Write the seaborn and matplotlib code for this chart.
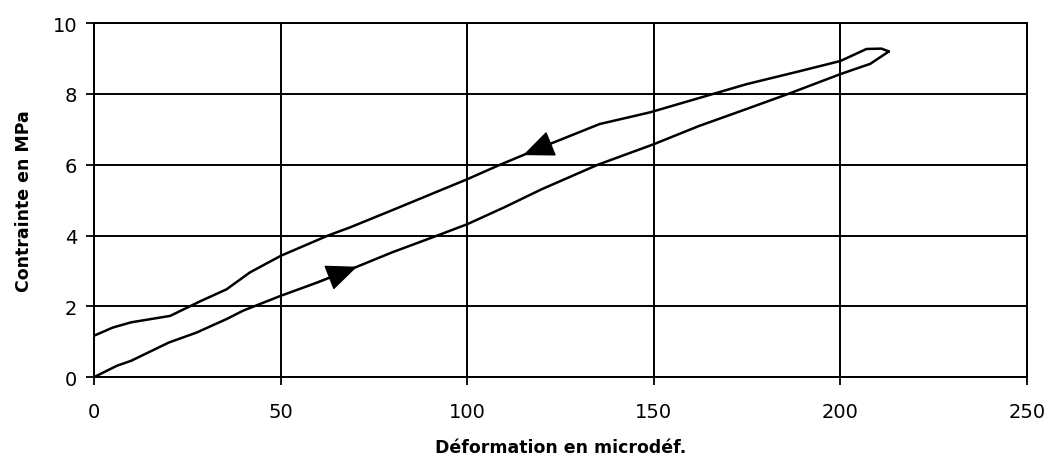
import numpy as np
import pandas as pd
import matplotlib
matplotlib.use("Agg")
import matplotlib.pyplot as plt
import seaborn as sns

# loading branch (lower curve)
load_x = [0, 6.1, 9.9, 20.1, 27.5, 35.5, 40.0, 50.1, 60.0, 67.7, 80.0, 92.0,
          100.0, 110.0, 120.0, 135.0, 150.0, 162.0, 175.0, 186.0, 200.0, 208.0, 213.0]
load_y = [0, 0.32, 0.46, 0.98, 1.26, 1.64, 1.88, 2.30, 2.68, 3.0, 3.53, 4.0,
          4.32, 4.80, 5.31, 6.0, 6.58, 7.09, 7.58, 8.0, 8.56, 8.85, 9.2]

# unloading branch (upper curve)
unload_x = [213.0, 211.0, 207.0, 200.0, 189.0, 175.0, 162.0, 149.0, 135.5, 122.0, 108.8,
            100.0, 80.0, 68.6, 62.7, 50.1, 41.8, 35.5, 28.4, 20.4, 10.0, 5.0, 0]
unload_y = [9.2, 9.28, 9.27, 8.93, 8.64, 8.28, 7.88, 7.48, 7.15, 6.58, 6.0,
            5.59, 4.72, 4.23, 4.0, 3.43, 2.96, 2.48, 2.14, 1.73, 1.55, 1.4, 1.17]

# arrow tips (x) on each branch
arrow_load_x = 70.5
arrow_unload_x = 115.0

x_ticks = [0, 50, 100, 150, 200, 250]
y_ticks = [0, 2, 4, 6, 8, 10]

df = pd.concat([
    pd.DataFrame({"x": load_x, "y": load_y, "branch": "charge"}),
    pd.DataFrame({"x": unload_x, "y": unload_y, "branch": "decharge"}),
])

sns.set_style("white")
plt.rcParams["font.family"] = ["DejaVu Sans"]
plt.rcParams["text.color"] = "black"
plt.rcParams["axes.labelcolor"] = "black"
plt.rcParams["xtick.color"] = "black"
plt.rcParams["ytick.color"] = "black"

fig = plt.figure(figsize=(10.49, 4.64), dpi=100)
ax = fig.add_axes([0.0896, 0.185, 0.8894, 0.763])

sns.lineplot(data=df, x="x", y="y", units="branch", estimator=None, sort=False,
             color="black", linewidth=1.8, ax=ax)

# arrowheads along the curves
def add_arrow(xs, ys, tip_x, step):
    order = np.argsort(xs)
    xs_s = np.asarray(xs)[order]
    ys_s = np.asarray(ys)[order]
    tail_x = tip_x - step
    tip = (tip_x, np.interp(tip_x, xs_s, ys_s))
    tail = (tail_x, np.interp(tail_x, xs_s, ys_s))
    ax.annotate("", xy=tip, xytext=tail,
                arrowprops=dict(arrowstyle="-|>,head_length=2.0,head_width=0.85",
                                color="black", lw=1.0, shrinkA=0, shrinkB=0))

add_arrow(load_x, load_y, arrow_load_x, 14)
add_arrow(unload_x, unload_y, arrow_unload_x, -14)

ax.set_xlim(0, 250)
ax.set_ylim(0, 10)
ax.set_xticks(x_ticks)
ax.set_yticks(y_ticks)
ax.grid(True, color="black", linewidth=1.4)
for s in ax.spines.values():
    s.set_color("black")
    s.set_linewidth(1.4)
ax.tick_params(axis="both", direction="out", length=6, width=1.3, colors="black",
               labelsize=14, pad=6, bottom=True, left=True)
ax.tick_params(axis="x", pad=12)
ax.set_xlabel("Déformation en microdéf.", fontsize=12.5, fontweight="bold", labelpad=12)
ax.set_ylabel("Contrainte en MPa", fontsize=12.5, fontweight="bold", labelpad=14)

fig.savefig("out.png", dpi=100)
